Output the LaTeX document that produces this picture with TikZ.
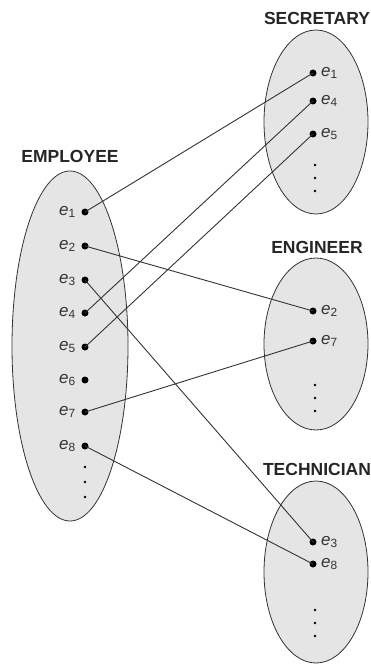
\documentclass[tikz,border=0pt]{standalone}
\usepackage{fontspec}
\setmainfont{Liberation Sans}
\begin{document}
\begin{tikzpicture}[x=1pt,y=-1pt,
  setshape/.style={draw=black!80,fill=black!10,line width=0.8pt},
  setname/.style={font=\bfseries\fontsize{17.5}{20}\selectfont,text=black!85},
  dotpt/.style={circle,fill=black,inner sep=0pt,minimum size=7pt},
  smalldot/.style={circle,fill=black,inner sep=0pt,minimum size=2.6pt},
  elab/.style={font=\fontsize{17}{19}\selectfont,text=black!80,inner sep=1pt},
  link/.style={draw=black!80,line width=0.9pt}]
\useasboundingbox (0,0) rectangle (370,669);
% ellipses
\draw[setshape] (70,346) ellipse [x radius=58, y radius=175];
\draw[setshape] (316,122) ellipse [x radius=52, y radius=92];
\draw[setshape] (316,344) ellipse [x radius=52, y radius=86];
\draw[setshape] (316,572) ellipse [x radius=52, y radius=91];
% names
\node[setname] (nemp) at (70,156) {EMPLOYEE};
\node[setname] (nsec) at (317,18) {SECRETARY};
\node[setname] (neng) at (317,247) {ENGINEER};
\node[setname] (ntec) at (317,469) {TECHNICIAN};
% employee
\foreach \i/\y in {1/212,2/246,3/280,4/313,5/347,6/380,7/412,8/446}{
  \node[dotpt] (a\i) at (85,\y) {};
  \node[elab,anchor=east] (la\i) at (77,\y) {\textit{e}\textsubscript{\i}};
}
\foreach \y [count=\k] in {467,482,497}{\node[smalldot] (ad\k) at (85,\y) {};}
% secretary
\foreach \i/\y in {1/73,4/101,5/134}{
  \node[dotpt] (s\i) at (313,\y) {};
  \node[elab,anchor=west] (ls\i) at (320,\y) {\textit{e}\textsubscript{\i}};
}
\foreach \y [count=\k] in {165,178,191}{\node[smalldot] (sd\k) at (315,\y) {};}
% engineer
\foreach \i/\y in {2/311,7/341}{
  \node[dotpt] (g\i) at (313,\y) {};
  \node[elab,anchor=west] (lg\i) at (320,\y) {\textit{e}\textsubscript{\i}};
}
\foreach \y [count=\k] in {385,398,411}{\node[smalldot] (gd\k) at (315,\y) {};}
% technician
\foreach \i/\y in {3/542,8/564}{
  \node[dotpt] (t\i) at (313,\y) {};
  \node[elab,anchor=west] (lt\i) at (320,\y) {\textit{e}\textsubscript{\i}};
}
\foreach \y [count=\k] in {610,623,636}{\node[smalldot] (td\k) at (315,\y) {};}
% links
\draw[link] (a1.center) -- (s1.center);
\draw[link] (a4.center) -- (s4.center);
\draw[link] (a5.center) -- (s5.center);
\draw[link] (a2.center) -- (g2.center);
\draw[link] (a7.center) -- (g7.center);
\draw[link] (a3.center) -- (t3.center);
\draw[link] (a8.center) -- (t8.center);
\end{tikzpicture}
\end{document}
